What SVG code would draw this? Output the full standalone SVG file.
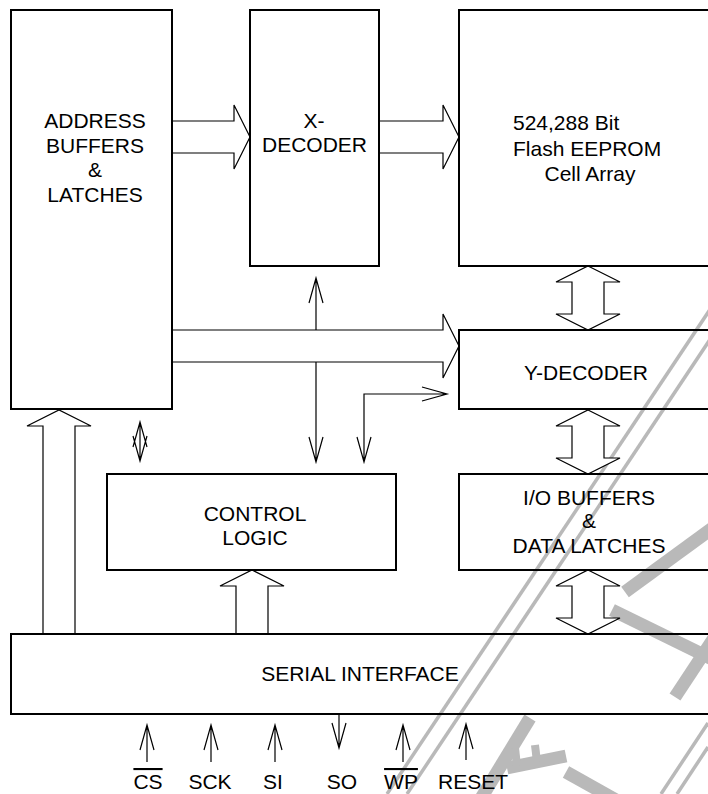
<svg xmlns="http://www.w3.org/2000/svg" width="708" height="794" viewBox="0 0 708 794">
<style>
.box{fill:none;stroke:#000;stroke-width:2}
.bus{fill:#fff;stroke:#000;stroke-width:1.2;stroke-linejoin:miter}
.sig{fill:none;stroke:#000;stroke-width:1.2}
.t{font-family:"Liberation Sans",Arial,sans-serif;font-size:21px;fill:#000;text-anchor:middle}
.wm{fill:none;stroke:#b9b9b9;stroke-linecap:butt}
.wt{stroke-width:3.5}
.wb{stroke-width:13}
</style>
<rect x="0" y="0" width="708" height="794" fill="#fff"/>
<g id="watermark">
<line class="wm wt" x1="387" y1="794" x2="717" y2="299"/>
<line class="wm wt" x1="407" y1="794" x2="737" y2="299"/>
<line class="wm wt" x1="708" y1="723" x2="661" y2="794"/>
<line class="wm wt" x1="708" y1="747" x2="677" y2="794"/>
<line class="wm wb" x1="714" y1="527" x2="625" y2="592"/>
<line class="wm wb" x1="612" y1="610" x2="714" y2="660"/>
<line class="wm wb" x1="675" y1="697" x2="714" y2="638"/>
<line class="wm wb" x1="530" y1="718" x2="480" y2="800"/>
<line class="wm wb" x1="507" y1="768" x2="566" y2="756"/>
<line class="wm" stroke-width="8" x1="517" y1="766" x2="515" y2="748"/>
<line class="wm" stroke-width="8" x1="537" y1="762" x2="535" y2="745"/>
<line class="wm wb" x1="566" y1="772" x2="616" y2="800"/>
</g>
<g id="connectors">
<path class="bus" d="M172,121 H234 V105 L250,137 L234,169 V153 H172"/>
<path class="bus" d="M379,121 H443 V105 L459,137 L443,169 V153 H379"/>
<path class="bus" d="M172,330 H443 V314 L459,346 L443,378 V362 H172"/>
<path class="bus" d="M43,634 V426 H27 L59,410 L91,426 H75 V634"/>
<path class="bus" d="M236,634 V586 H220 L252,570 L284,586 H268 V634"/>
<path class="bus" d="M588,266 L620,282 H604 V314 H620 L588,330 L556,314 H572 V282 H556 Z"/>
<path class="bus" d="M588,410 L620,426 H604 V458 H620 L588,474 L556,458 H572 V426 H556 Z"/>
<path class="bus" d="M588,570 L620,586 H604 V618 H620 L588,634 L556,618 H572 V586 H556 Z"/>
<path class="sig" d="M316,330 V278 M309,303 L316,278 L323,303"/>
<path class="sig" d="M316,362 V462 M309,437 L316,462 L323,437"/>
<path class="sig" d="M364,462 V394 H447 M357,437 L364,462 L371,437 M422,387 L447,394 L422,401"/>
<path class="sig" d="M140,422 V461 M133,447 L140,422 L147,447 M133,436 L140,461 L147,436"/>
<path class="sig" d="M147,762 V725 M140,750 L147,725 L154,750"/>
<path class="sig" d="M211,762 V725 M204,750 L211,725 L218,750"/>
<path class="sig" d="M275,762 V725 M268,750 L275,725 L282,750"/>
<path class="sig" d="M339,714 V748 M332,723 L339,748 L346,723"/>
<path class="sig" d="M403,762 V725 M396,750 L403,725 L410,750"/>
<path class="sig" d="M466,760 V724 M459,749 L466,724 L473,749"/>
</g>
<g id="node-address">
<rect class="box" x="11" y="10" width="161" height="399"/>
<text class="t" x="95" y="128">ADDRESS</text>
<text class="t" x="95" y="153">BUFFERS</text>
<text class="t" x="95" y="177">&amp;</text>
<text class="t" x="95" y="202">LATCHES</text>
</g>
<g id="node-xdecoder">
<rect class="box" x="250" y="10" width="129" height="256"/>
<text class="t" x="314" y="128">X-</text>
<text class="t" x="314.5" y="152">DECODER</text>
</g>
<g id="node-cellarray">
<rect class="box" x="459" y="10" width="270" height="256"/>
<text class="t" x="513" y="130" style="text-anchor:start">524,288 Bit</text>
<text class="t" x="513" y="156" style="text-anchor:start">Flash EEPROM</text>
<text class="t" x="590" y="181">Cell Array</text>
</g>
<g id="node-ydecoder">
<rect class="box" x="459" y="330" width="270" height="79"/>
<text class="t" x="586" y="380">Y-DECODER</text>
</g>
<g id="node-io">
<rect class="box" x="459" y="474" width="270" height="96"/>
<text class="t" x="589" y="505">I/O BUFFERS</text>
<text class="t" x="589" y="528">&amp;</text>
<text class="t" x="589" y="553">DATA LATCHES</text>
</g>
<g id="node-control">
<rect class="box" x="107" y="474" width="289" height="96"/>
<text class="t" x="255" y="521">CONTROL</text>
<text class="t" x="255" y="545">LOGIC</text>
</g>
<g id="node-serial">
<rect class="box" x="11" y="634" width="720" height="80"/>
<text class="t" x="360" y="681">SERIAL INTERFACE</text>
</g>
<g id="pins">
<text class="t" x="148" y="789" text-decoration="overline">CS</text>
<text class="t" x="210" y="789">SCK</text>
<text class="t" x="273" y="789">SI</text>
<text class="t" x="342" y="789">SO</text>
<text class="t" x="401" y="789" text-decoration="overline">WP</text>
<text class="t" x="473" y="789">RESET</text>
</g>
</svg>
